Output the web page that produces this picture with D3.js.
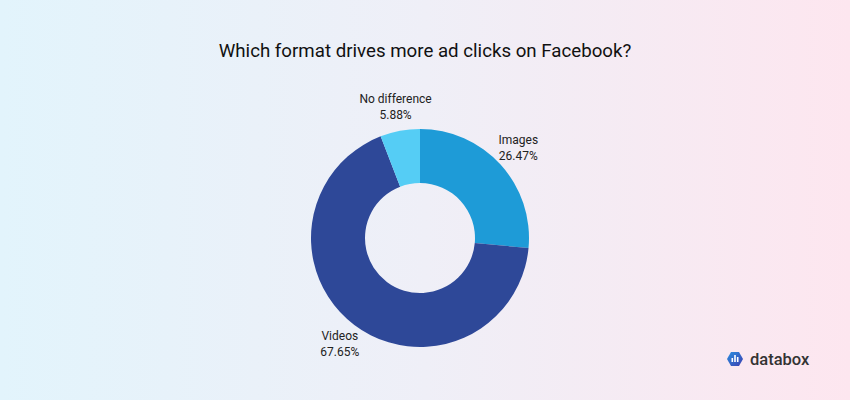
<!DOCTYPE html>
<html><head><meta charset="utf-8">
<script src="https://cdn.jsdelivr.net/npm/d3@7"></script>
<style>html,body{margin:0;padding:0;}svg{display:block;font-family:Roboto,"Noto Sans",sans-serif;}</style>
</head><body>
<svg id="c" width="850" height="400"></svg>
<script>
const categories = ["Images", "Videos", "No difference"];
const values = [26.47, 67.65, 5.88];
const labels = ["26.47%", "67.65%", "5.88%"];
const colors = ["#1e9bd7", "#2e4898", "#55cdf5"];
const title = "Which format drives more ad clicks on Facebook?";

const svg = d3.select("#c");
const defs = svg.append("defs");
const bg = defs.append("linearGradient").attr("id","bg").attr("x1","0").attr("x2","1").attr("y1","0").attr("y2","0");
bg.append("stop").attr("offset","0").attr("stop-color","#e2f4fc");
bg.append("stop").attr("offset","0.5").attr("stop-color","#efeff7");
bg.append("stop").attr("offset","1").attr("stop-color","#fde6ef");
svg.append("rect").attr("width",850).attr("height",400).attr("fill","url(#bg)");

svg.append("text").attr("x",425).attr("y",57).attr("text-anchor","middle")
  .attr("font-size",18.7).attr("fill","#111").text(title);

const cx = 420, cy = 238, R = 109, r0 = 55;
const pie = d3.pie().sort(null).value(d => d.v);
const data = categories.map((c,i)=>({c, v: values[i], l: labels[i], col: colors[i]}));
const arcs = pie(data);
const arc = d3.arc().innerRadius(r0).outerRadius(R);
const g = svg.append("g").attr("transform",`translate(${cx},${cy})`);
g.selectAll("path").data(arcs).join("path").attr("d",arc).attr("fill",d=>d.data.col);

const labelArc = d3.arc().innerRadius(133).outerRadius(133);
const lg = g.selectAll("g.lab").data(arcs).join("g").attr("class","lab")
  .attr("transform", d => { const [x,y] = labelArc.centroid(d); return `translate(${x},${y})`; });
lg.append("text").attr("text-anchor","middle").attr("font-size",12).attr("fill","#222")
  .attr("y",-4).text(d=>d.data.c);
lg.append("text").attr("text-anchor","middle").attr("font-size",12).attr("fill","#222")
  .attr("y",12).text(d=>d.data.l);

// logo
const lgG = defs.append("linearGradient").attr("id","lg").attr("x1","0").attr("x2","1").attr("y1","0").attr("y2","1");
lgG.append("stop").attr("offset","0").attr("stop-color","#2b8fe0");
lgG.append("stop").attr("offset","1").attr("stop-color","#3b3fb0");
const logo = svg.append("g").attr("transform","translate(735,359)");
const hex = d3.range(6).map(i => { const a = Math.PI/3*i + Math.PI/6; return [8*Math.cos(a), 8*Math.sin(a)]; });
logo.append("path").attr("d", d3.line()(hex.map(p=>[p[1],p[0]])) + "Z").attr("fill","url(#lg)");
logo.append("rect").attr("x",-3.5).attr("y",-1).attr("width",1.6).attr("height",4).attr("fill","#fff");
logo.append("rect").attr("x",-0.8).attr("y",-4).attr("width",1.6).attr("height",7).attr("fill","#fff");
logo.append("rect").attr("x",1.9).attr("y",-2).attr("width",1.6).attr("height",5).attr("fill","#fff");
svg.append("text").attr("x",750).attr("y",365).attr("font-size",16.5).attr("font-weight",500)
  .attr("fill","#333").text("databox");
</script>
</body></html>
